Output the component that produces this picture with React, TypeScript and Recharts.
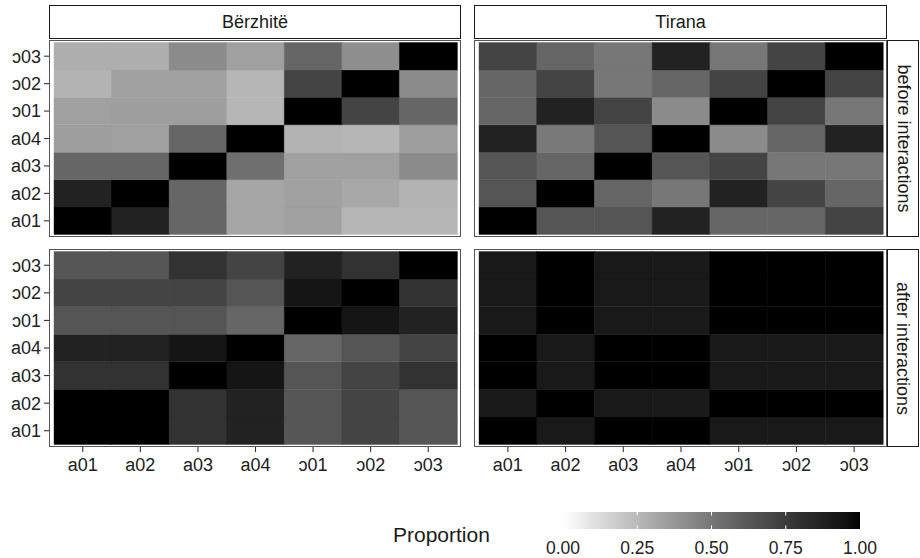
import React from 'react';
import { BarChart, Bar, Cell, XAxis, YAxis } from 'recharts';

const categories = ['a01', 'a02', 'a03', 'a04', 'ɔ01', 'ɔ02', 'ɔ03'];
const sites = ['Bërzhitë', 'Tirana'];
const phases = ['before interactions', 'after interactions'];
const legendTicks = [0, 0.25, 0.5, 0.75, 1];

// rows go from a01 (bottom) to ɔ03 (top), columns a01 .. ɔ03
const berzhiteBefore = [
  [1.0, 0.87, 0.57, 0.32, 0.34, 0.26, 0.26],
  [0.87, 1.0, 0.57, 0.32, 0.34, 0.31, 0.27],
  [0.57, 0.57, 1.0, 0.53, 0.34, 0.34, 0.42],
  [0.35, 0.34, 0.57, 1.0, 0.27, 0.26, 0.35],
  [0.34, 0.35, 0.35, 0.26, 1.0, 0.71, 0.57],
  [0.27, 0.34, 0.34, 0.26, 0.71, 1.0, 0.42],
  [0.29, 0.29, 0.42, 0.34, 0.57, 0.41, 1.0],
];

const tiranaBefore = [
  [1.0, 0.64, 0.64, 0.87, 0.57, 0.57, 0.71],
  [0.64, 1.0, 0.57, 0.5, 0.87, 0.71, 0.57],
  [0.64, 0.57, 1.0, 0.64, 0.71, 0.5, 0.5],
  [0.87, 0.49, 0.64, 1.0, 0.42, 0.57, 0.87],
  [0.57, 0.87, 0.71, 0.42, 1.0, 0.71, 0.5],
  [0.57, 0.71, 0.5, 0.57, 0.71, 1.0, 0.71],
  [0.71, 0.57, 0.5, 0.87, 0.5, 0.71, 1.0],
];

const berzhiteAfter = [
  [1.0, 1.0, 0.79, 0.87, 0.64, 0.71, 0.64],
  [1.0, 1.0, 0.79, 0.87, 0.64, 0.71, 0.64],
  [0.79, 0.79, 1.0, 0.93, 0.64, 0.71, 0.79],
  [0.87, 0.87, 0.93, 1.0, 0.57, 0.64, 0.71],
  [0.64, 0.64, 0.64, 0.57, 1.0, 0.93, 0.87],
  [0.71, 0.71, 0.71, 0.64, 0.93, 1.0, 0.79],
  [0.64, 0.64, 0.79, 0.71, 0.87, 0.79, 1.0],
];

const tiranaAfter = [
  [1.0, 0.91, 1.0, 1.0, 0.91, 0.91, 0.91],
  [0.91, 1.0, 0.91, 0.91, 1.0, 1.0, 1.0],
  [1.0, 0.91, 1.0, 1.0, 0.91, 0.91, 0.91],
  [1.0, 0.91, 1.0, 1.0, 0.91, 0.91, 0.91],
  [0.91, 1.0, 0.91, 0.91, 1.0, 1.0, 1.0],
  [0.91, 1.0, 0.91, 0.91, 1.0, 1.0, 1.0],
  [0.91, 1.0, 0.91, 0.91, 1.0, 1.0, 1.0],
];

const FONT = "'Liberation Sans', Arial, Helvetica, sans-serif";

// white -> black, interpolated on lightness like ggplot's gradient
function fillFor(v: number) {
  const L = 100 * (1 - v);
  const fy = (L + 16) / 116;
  const Y = fy ** 3 > 0.008856 ? fy ** 3 : L / 903.3;
  const s = Y <= 0.0031308 ? 12.92 * Y : 1.055 * Math.pow(Y, 1 / 2.4) - 0.055;
  const g = Math.max(0, Math.min(255, Math.round(255 * s)));
  return `rgb(${g},${g},${g})`;
}

const rowKeys = categories.map((_, i) => `r${i}`);
const tileData = categories.map((cat) => {
  const row: Record<string, any> = { cat };
  rowKeys.forEach((k) => (row[k] = 1));
  return row;
});
const yTicks = categories.map((_, i) => i + 0.5);

interface HeatProps {
  matrix: number[][];
  left: number;
  top: number;
  panelW: number;
  panelH: number;
  showX: boolean;
  showY: boolean;
}

function Heatmap({ matrix, left, top, panelW, panelH, showX, showY }: HeatProps) {
  const yAxisW = showY ? 49 : 0;
  const xAxisH = showX ? 34 : 0;
  return (
    <div style={{ position: 'absolute', left: left - yAxisW, top }}>
      <BarChart
        width={panelW + yAxisW}
        height={panelH + xAxisH}
        data={tileData}
        margin={{ top: 0, right: 0, bottom: 0, left: 0 }}
        barCategoryGap={0}
        barGap={0}
      >
        <XAxis
          dataKey="cat"
          hide={!showX}
          height={xAxisH}
          padding={{ left: 5, right: 4 }}
          axisLine={false}
          tickSize={5}
          tickMargin={6}
          interval={0}
          tickLine={{ stroke: '#333', strokeWidth: 1.1 }}
          tick={{ fontSize: 18, fill: '#222', fontFamily: FONT }}
        />
        <YAxis
          type="number"
          domain={[-0.09, 7.09]}
          ticks={yTicks}
          interval={0}
          hide={!showY}
          width={yAxisW}
          axisLine={false}
          tickSize={5}
          tickMargin={3}
          tickLine={{ stroke: '#333', strokeWidth: 1.1 }}
          tickFormatter={(v: number) => categories[Math.floor(v)]}
          tick={{ fontSize: 18, fill: '#222', fontFamily: FONT }}
        />
        {rowKeys.map((k, r) => (
          <Bar key={k} dataKey={k} stackId="tiles" isAnimationActive={false}>
            {categories.map((c, j) => (
              <Cell key={c} fill={fillFor(matrix[r][j])} stroke={fillFor(matrix[r][j])} strokeWidth={0.4} />
            ))}
          </Bar>
        ))}
      </BarChart>
      <div
        style={{
          position: 'absolute',
          left: yAxisW,
          top: 0,
          width: panelW,
          height: panelH,
          border: '1px solid #555',
          boxSizing: 'border-box',
          pointerEvents: 'none',
        }}
      />
    </div>
  );
}

const stripText: React.CSSProperties = {
  position: 'absolute',
  boxSizing: 'border-box',
  border: '1px solid #1a1a1a',
  background: '#fff',
  display: 'flex',
  alignItems: 'center',
  justifyContent: 'center',
  fontFamily: FONT,
  fontSize: 18,
  color: '#1a1a1a',
};

function ColourBar() {
  const x0 = 183;
  const w = 297;
  const y0 = 32;
  const h = 17;
  return (
    <svg width={540} height={78} style={{ position: 'absolute', left: 380, top: 480 }}>
      <defs>
        <linearGradient id="prop" x1="0" x2="1" y1="0" y2="0">
          {Array.from({ length: 21 }, (_, i) => i / 20).map((t) => (
            <stop key={t} offset={t} stopColor={fillFor(t)} />
          ))}
        </linearGradient>
      </defs>
      <text x={13} y={62} fontSize={21} fontFamily={FONT} fill="#1a1a1a">
        Proportion
      </text>
      <rect x={x0} y={y0} width={w} height={h} fill="url(#prop)" />
      {legendTicks.map((t) => (
        <g key={t}>
          {t > 0 && t < 1 && (
            <>
              <line x1={x0 + t * w} x2={x0 + t * w} y1={y0} y2={y0 + 3.5} stroke="#fff" strokeWidth={1} />
              <line x1={x0 + t * w} x2={x0 + t * w} y1={y0 + h - 3.5} y2={y0 + h} stroke="#fff" strokeWidth={1} />
            </>
          )}
          <text x={x0 + t * w} y={74} fontSize={17.5} textAnchor="middle" fontFamily={FONT} fill="#222">
            {t.toFixed(2)}
          </text>
        </g>
      ))}
    </svg>
  );
}

export default function App() {
  return (
    <div style={{ position: 'absolute', left: 0, top: 0, width: 920, height: 558, background: '#fff', overflow: 'hidden' }}>
      {/* column strips */}
      <div style={{ ...stripText, left: 49, top: 5, width: 412, height: 34 }}>{sites[0]}</div>
      <div style={{ ...stripText, left: 474, top: 5, width: 413, height: 34 }}>{sites[1]}</div>

      {/* row strips */}
      {[40, 249].map((t, i) => (
        <div key={t} style={{ ...stripText, left: 887, top: t, width: 32, height: i === 0 ? 197 : 198 }}>
          <span style={{ transform: 'rotate(90deg)', whiteSpace: 'nowrap' }}>{phases[i]}</span>
        </div>
      ))}

      <Heatmap matrix={berzhiteBefore} left={49} top={40} panelW={412} panelH={197} showX={false} showY />
      <Heatmap matrix={tiranaBefore} left={474} top={40} panelW={413} panelH={197} showX={false} showY={false} />
      <Heatmap matrix={berzhiteAfter} left={49} top={249} panelW={412} panelH={198} showX showY />
      <Heatmap matrix={tiranaAfter} left={474} top={249} panelW={413} panelH={198} showX showY={false} />

      <ColourBar />
    </div>
  );
}
